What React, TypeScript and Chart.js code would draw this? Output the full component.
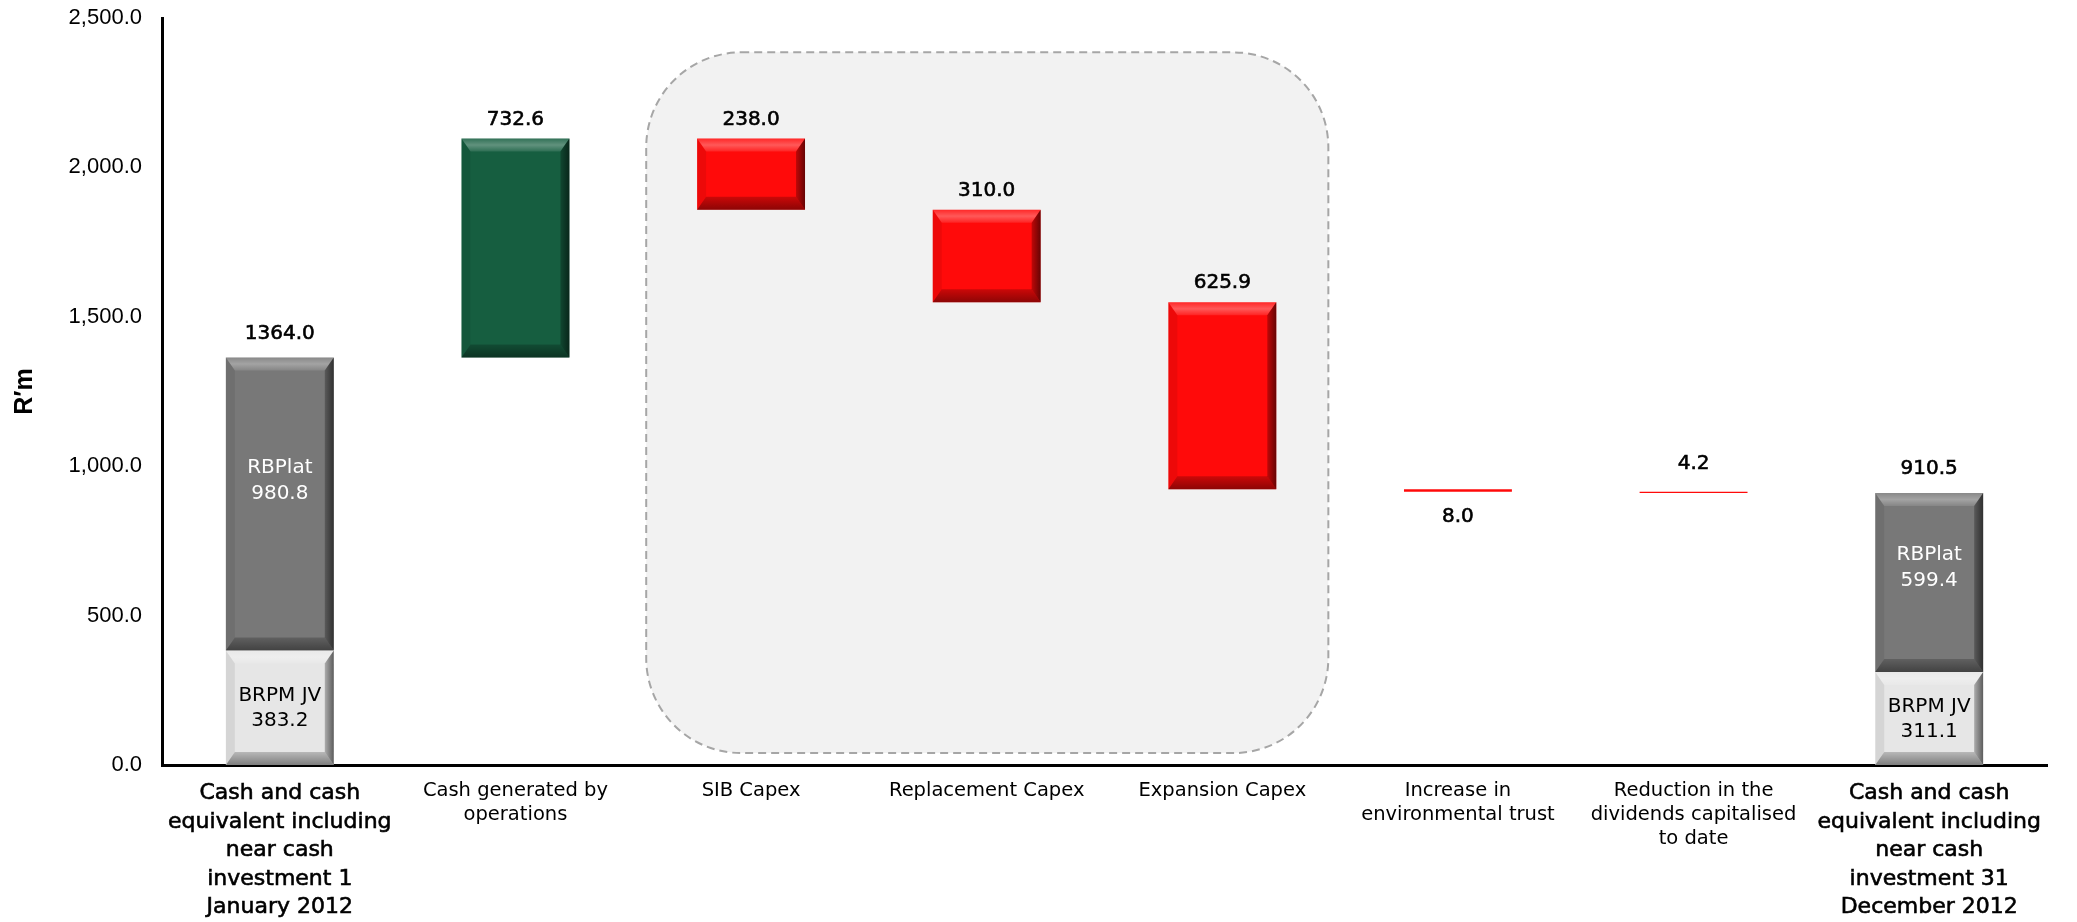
import React, { useEffect, useRef } from 'react';
import { Chart, registerables } from 'chart.js';

Chart.register(...registerables);

// ---------- data ----------
const categories: string[][] = [
  ['Cash and cash', 'equivalent including', 'near cash', 'investment 1', 'January 2012'],
  ['Cash generated by', 'operations'],
  ['SIB Capex'],
  ['Replacement Capex'],
  ['Expansion Capex'],
  ['Increase in', 'environmental trust'],
  ['Reduction in the', 'dividends capitalised', 'to date'],
  ['Cash and cash', 'equivalent including', 'near cash', 'investment 31', 'December 2012'],
];

const brpmJV: (number | null)[] = [383.2, null, null, null, null, null, null, 311.1];
const rbplat: (number | null)[] = [980.8, null, null, null, null, null, null, 599.4];
const movements: (number | null)[] = [null, 732.6, -238.0, -310.0, -625.9, -8.0, -4.2, null];
const yTicks: number[] = [0, 500, 1000, 1500, 2000, 2500];

// style-only: which movement labels sit below their bar
const labelBelow: boolean[] = [false, false, false, false, false, true, false, false];

// ---------- derived ranges ----------
const jvRanges = brpmJV.map((v) => (v == null ? null : [0, v]));
const rbRanges = rbplat.map((v, i) => (v == null ? null : [brpmJV[i] as number, (brpmJV[i] as number) + v]));
let running = (brpmJV[0] as number) + (rbplat[0] as number);
const moveRanges = movements.map((m) => {
  if (m == null) return null;
  const s = running;
  running += m;
  return [Math.min(s, running), Math.max(s, running)];
});

const GREEN = '#165e40';
const RED = '#ff0a0a';
const moveColors = movements.map((m) => (m != null && m > 0 ? GREEN : RED));

const FONT = "'DejaVu Sans', 'Liberation Sans', sans-serif";
const TICK_FONT = "'Liberation Sans', Arial, sans-serif";

function fmtTick(v: number): string {
  const fixed = v.toFixed(1);
  const [int, dec] = fixed.split('.');
  return int.replace(/\B(?=(\d{3})+(?!\d))/g, ',') + '.' + dec;
}

const shadePlugin = {
  id: 'shade',
  beforeDatasetsDraw(chart: any) {
    const { ctx } = chart;
    const xs = chart.scales.x;
    const ys = chart.scales.y;
    const left = xs.getPixelForValue(1.555);
    const right = xs.getPixelForValue(4.45);
    const top = ys.getPixelForValue(2385);
    const bottom = ys.getPixelForValue(40);
    ctx.save();
    ctx.beginPath();
    (ctx as any).roundRect(left, top, right - left, bottom - top, 95);
    ctx.fillStyle = '#f2f2f2';
    ctx.fill();
    ctx.setLineDash([8, 5]);
    ctx.lineWidth = 2;
    ctx.strokeStyle = '#a6a6a6';
    ctx.stroke();
    ctx.restore();
  },
};

function drawBevel(ctx: CanvasRenderingContext2D, l: number, t: number, r: number, b: number) {
  const h = b - t;
  const w = r - l;
  if (h < 30 || w < 30) return;
  const s = 9; // side bevel
  const v = 13; // top/bottom bevel
  const poly = (pts: number[][], fill: any) => {
    ctx.beginPath();
    ctx.moveTo(pts[0][0], pts[0][1]);
    for (let i = 1; i < pts.length; i++) ctx.lineTo(pts[i][0], pts[i][1]);
    ctx.closePath();
    ctx.fillStyle = fill;
    ctx.fill();
  };
  const gTop = ctx.createLinearGradient(0, t, 0, t + v);
  gTop.addColorStop(0, 'rgba(255,255,255,0.12)');
  gTop.addColorStop(0.5, 'rgba(255,255,255,0.32)');
  gTop.addColorStop(1, 'rgba(255,255,255,0.1)');
  poly([[l, t], [r, t], [r - s, t + v], [l + s, t + v]], gTop);
  poly([[l, t], [l + s, t + v], [l + s, b - v], [l, b]], 'rgba(0,0,0,0.07)');
  const gRight = ctx.createLinearGradient(r - s, 0, r, 0);
  gRight.addColorStop(0, 'rgba(0,0,0,0.25)');
  gRight.addColorStop(1, 'rgba(0,0,0,0.6)');
  poly([[r, t], [r, b], [r - s, b - v], [r - s, t + v]], gRight);
  const gBot = ctx.createLinearGradient(0, b - v, 0, b);
  gBot.addColorStop(0, 'rgba(0,0,0,0.2)');
  gBot.addColorStop(1, 'rgba(0,0,0,0.45)');
  poly([[l, b], [l + s, b - v], [r - s, b - v], [r, b]], gBot);
}

const bevelPlugin = {
  id: 'bevel',
  afterDatasetsDraw(chart: any) {
    const { ctx } = chart;
    ctx.save();
    chart.data.datasets.forEach((_: any, di: number) => {
      const meta = chart.getDatasetMeta(di);
      meta.data.forEach((el: any, i: number) => {
        const raw = chart.data.datasets[di].data[i];
        if (raw == null) return;
        const l = el.x - el.width / 2;
        const r = el.x + el.width / 2;
        const t = Math.min(el.y, el.base);
        const b = Math.max(el.y, el.base);
        drawBevel(ctx, l, t, r, b);
      });
    });
    ctx.restore();
  },
};

function boldText(ctx: CanvasRenderingContext2D, txt: string, x: number, y: number, color: string) {
  ctx.fillStyle = color;
  ctx.strokeStyle = color;
  ctx.lineWidth = 0.6;
  ctx.fillText(txt, x, y);
  ctx.strokeText(txt, x, y);
}

const labelPlugin = {
  id: 'valueLabels',
  afterDatasetsDraw(chart: any) {
    const { ctx } = chart;
    const metaJV = chart.getDatasetMeta(0);
    const metaRB = chart.getDatasetMeta(1);
    const metaMv = chart.getDatasetMeta(2);
    ctx.save();
    ctx.textAlign = 'center';
    ctx.textBaseline = 'middle';
    ctx.font = `20px ${FONT}`;
    for (let i = 0; i < categories.length; i++) {
      const jv = brpmJV[i];
      const rb = rbplat[i];
      if (jv != null && rb != null) {
        const elRB = metaRB.data[i];
        const elJV = metaJV.data[i];
        const top = Math.min(elRB.y, elRB.base);
        const rbBottom = Math.max(elRB.y, elRB.base);
        boldText(ctx, (jv + rb).toFixed(1), elRB.x, top - 24, '#000000');
        const cy = top + 0.42 * (rbBottom - top);
        ctx.fillStyle = '#ffffff';
        ctx.fillText('RBPlat', elRB.x, cy - 13);
        ctx.fillText(rb.toFixed(1), elRB.x, cy + 13);
        const jt = Math.min(elJV.y, elJV.base);
        const jb = Math.max(elJV.y, elJV.base);
        const jc = (jt + jb) / 2;
        ctx.fillStyle = '#000';
        ctx.fillText('BRPM JV', elJV.x, jc - 12);
        ctx.fillText(jv.toFixed(1), elJV.x, jc + 13);
      }
      const m = movements[i];
      if (m != null) {
        const el = metaMv.data[i];
        const top = Math.min(el.y, el.base);
        const bottom = Math.max(el.y, el.base);
        const txt = Math.abs(m).toFixed(1);
        if (labelBelow[i]) boldText(ctx, txt, el.x, bottom + 25, '#000000');
        else boldText(ctx, txt, el.x, top - (bottom - top < 5 ? 28 : 19), '#000000');
      }
    }
    ctx.restore();
  },
};

export default function App() {
  const canvasRef = useRef<HTMLCanvasElement | null>(null);

  useEffect(() => {
    const canvas = canvasRef.current;
    if (!canvas) return;
    const chart = new Chart(canvas, {
      type: 'bar',
      data: {
        labels: categories as any,
        datasets: [
          { label: 'BRPM JV', data: jvRanges as any, backgroundColor: '#e6e6e6', borderWidth: 0 },
          { label: 'RBPlat', data: rbRanges as any, backgroundColor: '#787878', borderWidth: 0 },
          { label: 'Movement', data: moveRanges as any, backgroundColor: moveColors, borderWidth: 0 },
        ],
      },
      options: {
        responsive: false,
        animation: false,
        devicePixelRatio: 1,
        layout: { padding: { top: 18, right: 30, left: 0, bottom: 0 } },
        datasets: {
          bar: { grouped: false, categoryPercentage: 1, barPercentage: 0.458 } as any,
        },
        plugins: {
          legend: { display: false },
          tooltip: { enabled: false },
          title: { display: false },
        },
        scales: {
          x: {
            grid: { display: false, drawTicks: false },
            border: { display: true, color: '#000000', width: 3 },
            ticks: {
              autoSkip: false,
              maxRotation: 0,
              minRotation: 0,
              padding: 14,
              color: '#000000',
              textStrokeColor: '#000000',
              textStrokeWidth: (ctx: any) => (ctx.index === 0 || ctx.index === categories.length - 1 ? 0.6 : 0),
              font: (ctx: any) => {
                const i = ctx.index;
                if (i === 0 || i === categories.length - 1) {
                  return { family: FONT, size: 22, lineHeight: 1.3 };
                }
                return { family: FONT, size: 19.5, lineHeight: 1.23 };
              },
            } as any,
            afterFit: (scale: any) => {
              scale.height = 157;
              scale.paddingLeft = 0;
              scale.paddingRight = 0;
            },
          },
          y: {
            min: yTicks[0],
            max: yTicks[yTicks.length - 1],
            grid: { display: false, drawTicks: false },
            border: { display: true, color: '#000000', width: 3 },
            afterBuildTicks: (scale: any) => {
              scale.ticks = yTicks.map((v) => ({ value: v }));
            },
            ticks: {
              padding: 20,
              color: '#000000',
              font: { family: TICK_FONT, size: 22 },
              callback: (v: any) => fmtTick(Number(v)),
            },
            title: {
              display: true,
              text: 'R′m',
              color: '#000000',
              font: { family: TICK_FONT, size: 25, weight: 'bold' },
              padding: { top: 10, bottom: 0 },
            },
            afterFit: (scale: any) => {
              scale.width = 162;
              scale.paddingTop = 0;
              scale.paddingBottom = 0;
            },
          },
        },
      },
      plugins: [shadePlugin, bevelPlugin, labelPlugin],
    });
    return () => chart.destroy();
  }, []);

  return (
    <div style={{ position: 'absolute', left: 0, top: 0, width: 2077, height: 922, background: '#ffffff' }}>
      <canvas ref={canvasRef} width={2077} height={922} style={{ display: 'block', width: 2077, height: 922 }} />
    </div>
  );
}
